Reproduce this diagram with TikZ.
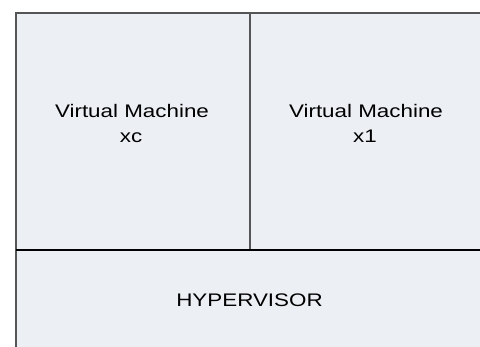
\documentclass[tikz,border=0pt]{standalone}
\usepackage{fontspec}
\setmainfont{Liberation Sans}
\newfontfamily\widefont[FakeStretch=1.23]{Liberation Sans}
\definecolor{boxfill}{RGB}{236,239,244}
\definecolor{edgegray}{RGB}{85,85,85}
\tikzset{
  region/.style={fill=boxfill, draw=edgegray, line width=1.6pt},
  label/.style={font=\widefont\fontsize{18.2}{22}\selectfont, anchor=base, inner sep=0pt}
}
\begin{document}
\begin{tikzpicture}[x=1pt,y=-1pt]
\useasboundingbox (0,0) rectangle (480,347);
\fill[white] (0,0) rectangle (480,347);
\path[region] (16,13) rectangle (250,250);
\path[region] (250,13) rectangle (495,250);
\path[region] (16,250) rectangle (495,360);
\draw[black, line width=1.8pt] (16,250) -- (495,250);
\node[label] (vm0name) at (132,118) {Virtual Machine};
\node[label] (vm0id) at (131,143) {xc};
\node[label] (vm1name) at (366,118) {Virtual Machine};
\node[label] (vm1id) at (365,143) {x1};
\node[label] (hyp) at (249.5,307) {HYPERVISOR};
\end{tikzpicture}
\end{document}
